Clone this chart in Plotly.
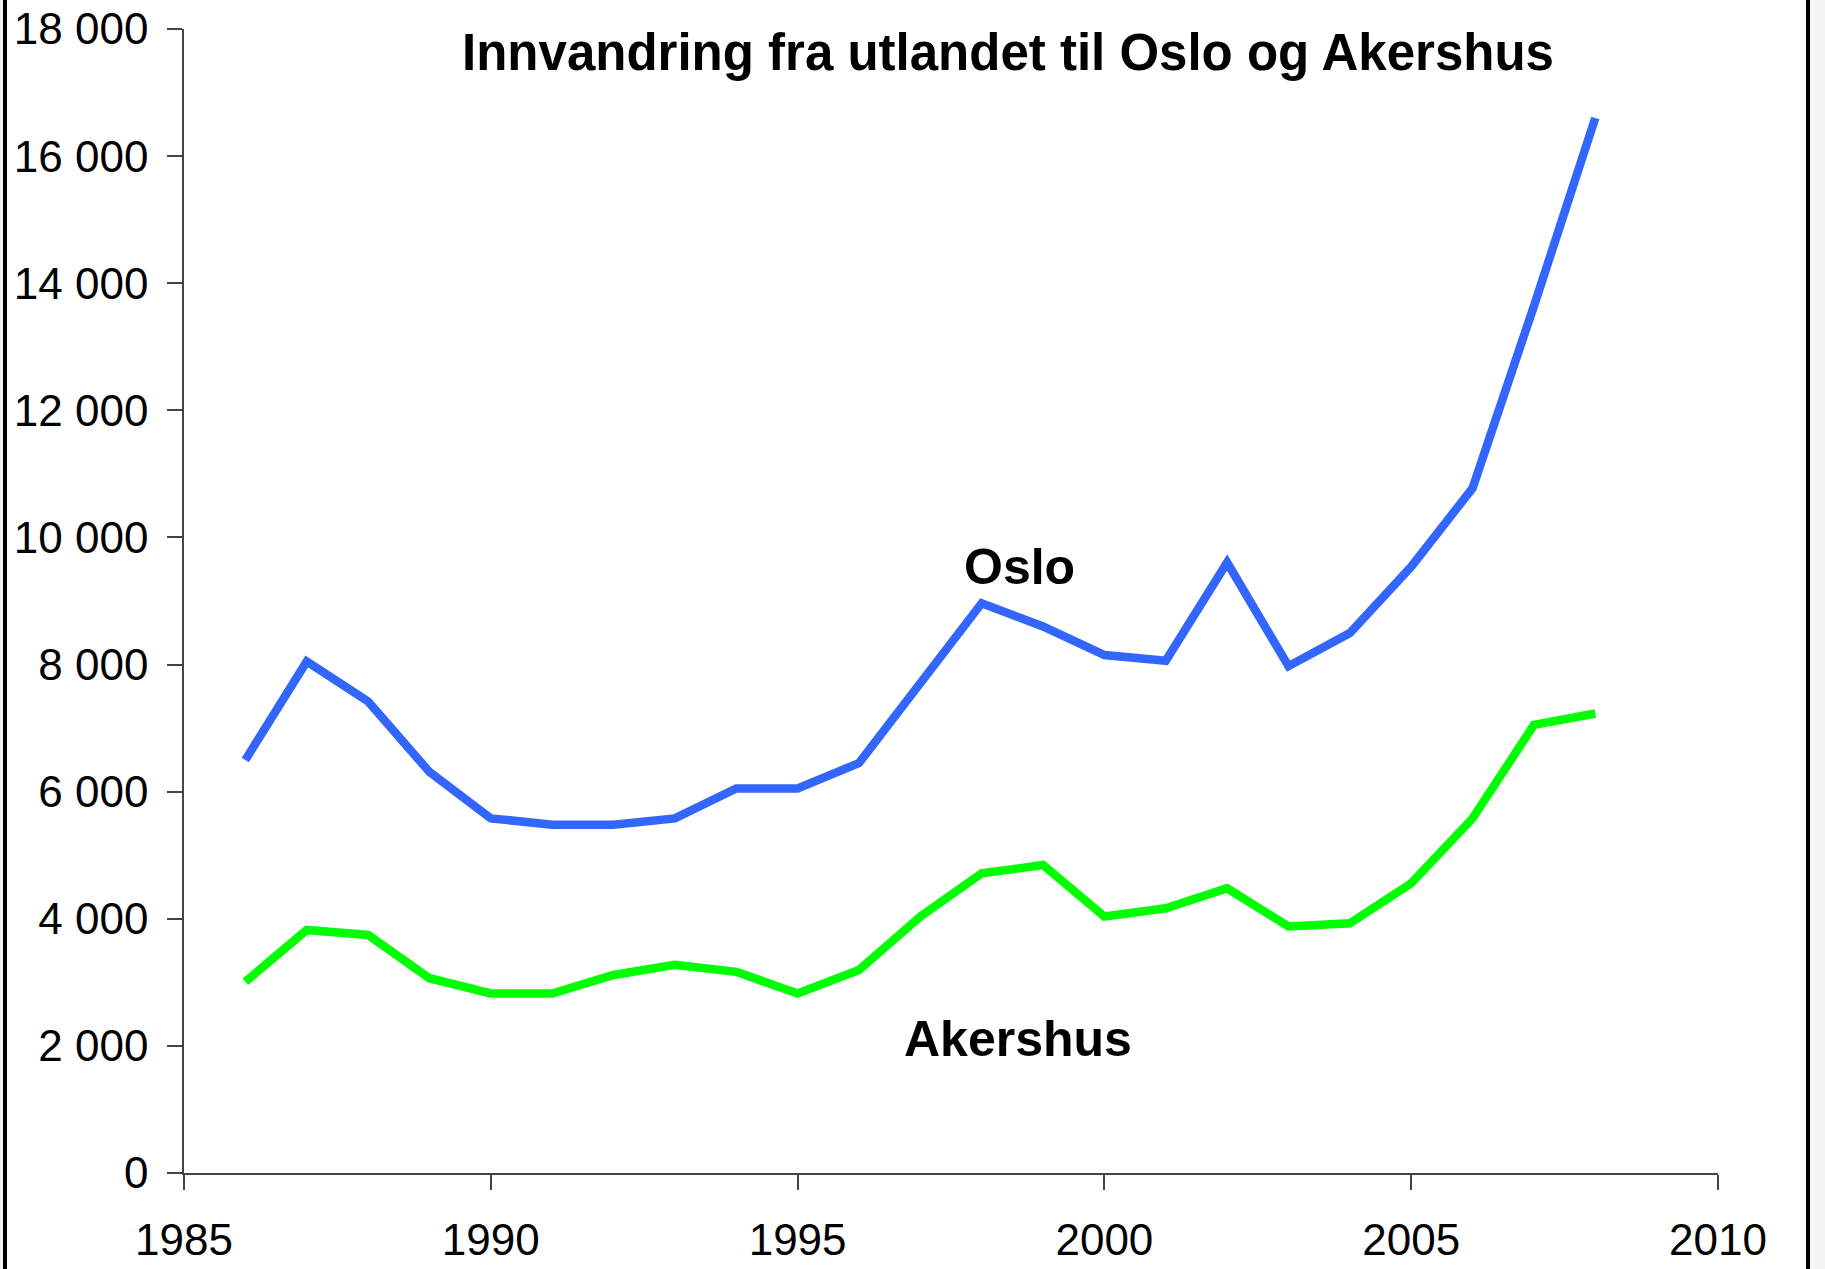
import plotly.graph_objects as go

years = [1986, 1987, 1988, 1989, 1990, 1991, 1992, 1993, 1994, 1995, 1996, 1997,
         1998, 1999, 2000, 2001, 2002, 2003, 2004, 2005, 2006, 2007, 2008]
oslo = [6500, 8050, 7420, 6310, 5580, 5480, 5480, 5580, 6050, 6050, 6450, 7690,
        8965, 8600, 8150, 8060, 9605, 7975, 8495, 9540, 10775, 13640, 16600]
akershus = [3010, 3825, 3745, 3065, 2825, 2825, 3115, 3275, 3165, 2825, 3195, 4035,
            4715, 4845, 4035, 4165, 4480, 3880, 3930, 4560, 5580, 7050, 7230]

x_ticks = [1985, 1990, 1995, 2000, 2005, 2010]
y_ticks = [0, 2000, 4000, 6000, 8000, 10000, 12000, 14000, 16000, 18000]
y_ticktext = ["0", "2 000", "4 000", "6 000", "8 000", "10 000", "12 000",
              "14 000", "16 000", "18 000"]

title_text = "Innvandring fra utlandet til Oslo og Akershus"
series_names = ["Oslo", "Akershus"]

W, H = 1825, 1269
L, R, T, B = 184, 107, 29, 96
pw = W - L - R
ph = H - T - B

FONT = "Liberation Sans, Arial, sans-serif"

fig = go.Figure()
fig.add_trace(go.Scatter(x=years, y=oslo, mode="lines", name=series_names[0],
                         line=dict(color="#3366FF", width=8.5), showlegend=False))
fig.add_trace(go.Scatter(x=years, y=akershus, mode="lines", name=series_names[1],
                         line=dict(color="#00FF00", width=8.5), showlegend=False))

axis_common = dict(showgrid=False, zeroline=False, showline=True, linecolor="#444444",
                   linewidth=1.5, ticks="outside", ticklen=15, tickwidth=1.5,
                   tickcolor="#444444", automargin=False,
                   tickfont=dict(family=FONT, size=44, color="black"))

fig.update_xaxes(range=[1985, 2010], tickvals=x_ticks,
                 ticktext=[str(v) for v in x_ticks], ticklabelstandoff=12,
                 **axis_common)
fig.update_yaxes(range=[0, 18000], tickvals=y_ticks, ticktext=y_ticktext,
                 ticklabelstandoff=10, **axis_common)

def px_to_paper_x(px):
    return (px - L) / pw

def py_to_paper_y(py):
    return (H - B - py) / ph

shapes = [
    dict(type="rect", xref="paper", yref="paper",
         x0=px_to_paper_x(0), x1=px_to_paper_x(3), y0=py_to_paper_y(H), y1=py_to_paper_y(0),
         fillcolor="#f3f3f3", line=dict(width=0), layer="below"),
    dict(type="rect", xref="paper", yref="paper",
         x0=px_to_paper_x(3), x1=px_to_paper_x(7), y0=py_to_paper_y(H), y1=py_to_paper_y(0),
         fillcolor="black", line=dict(width=0)),
    dict(type="rect", xref="paper", yref="paper",
         x0=px_to_paper_x(1806), x1=px_to_paper_x(1810), y0=py_to_paper_y(H), y1=py_to_paper_y(0),
         fillcolor="black", line=dict(width=0)),
    dict(type="rect", xref="paper", yref="paper",
         x0=px_to_paper_x(1810), x1=px_to_paper_x(W), y0=py_to_paper_y(H), y1=py_to_paper_y(0),
         fillcolor="#f5f5f5", line=dict(width=0), layer="below"),
]

annotations = [
    dict(x=1998.61, y=9535, xref="x", yref="y", text="<b>" + series_names[0] + "</b>",
         showarrow=False, xanchor="center", yanchor="middle",
         font=dict(family=FONT, size=50, color="black")),
    dict(x=1998.59, y=2108, xref="x", yref="y", text="<b>" + series_names[1] + "</b>",
         showarrow=False, xanchor="center", yanchor="middle",
         font=dict(family=FONT, size=50, color="black")),
]

fig.update_layout(
    width=W, height=H,
    margin=dict(l=L, r=R, t=T, b=B, pad=0, autoexpand=False),
    paper_bgcolor="white", plot_bgcolor="white",
    title=dict(text="<b>" + title_text + "</b>", xref="paper", x=px_to_paper_x(1008),
               xanchor="center", yref="container", y=1 - 52 / H, yanchor="middle",
               automargin=False,
               font=dict(family=FONT, size=51, color="black")),
    shapes=shapes,
    annotations=annotations,
    showlegend=False,
)

fig.write_html("out.html",
               config={"displayModeBar": False},
               post_script="document.body.style.margin='0px';document.body.style.padding='0px';")
